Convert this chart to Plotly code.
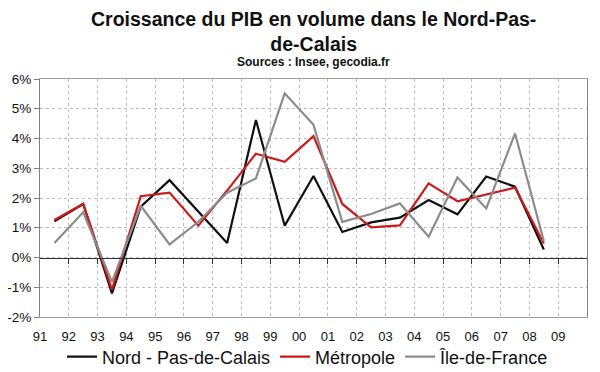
import plotly.graph_objects as go

years = ["91","92","93","94","95","96","97","98","99","00","01","02","03","04","05","06","07","08","09"]
nord = [1.22, 1.80, -1.21, 1.71, 2.60, 1.55, 0.49, 4.62, 1.07, 2.74, 0.86, 1.18, 1.34, 1.93, 1.45, 2.72, 2.38, 0.27]
metropole = [1.26, 1.80, -1.08, 2.06, 2.18, 1.07, 2.25, 3.49, 3.22, 4.08, 1.80, 1.01, 1.08, 2.49, 1.89, 2.13, 2.35, 0.47]
idf = [0.49, 1.52, -0.82, 1.74, 0.44, 1.20, 2.18, 2.66, 5.52, 4.46, 1.20, 1.46, 1.82, 0.70, 2.69, 1.65, 4.17, 0.55]
y_ticks = [-2, -1, 0, 1, 2, 3, 4, 5, 6]
y_labels = ["-2%", "-1%", "0%", "1%", "2%", "3%", "4%", "5%", "6%"]

xs = [i + 0.5 for i in range(len(nord))]
font = "Liberation Sans, Arial, sans-serif"

fig = go.Figure()
for name, vals, col in [("Nord - Pas-de-Calais", nord, "#111111"),
                        ("Métropole", metropole, "#cc1a1a"),
                        ("Île-de-France", idf, "#8c8c8c")]:
    fig.add_trace(go.Scatter(x=xs, y=vals, mode="lines", name=name,
                             line=dict(color=col, width=2.2)))

# invisible trace on xaxis2 to show zero axis ticks
fig.add_trace(go.Scatter(x=[0, 19], y=[0, 0], xaxis="x2", mode="lines",
                         line=dict(color="rgba(0,0,0,0)"), showlegend=False, hoverinfo="skip"))

fig.update_layout(
    width=600, height=372,
    margin=dict(l=32, r=21, t=71, b=63, autoexpand=False),
    paper_bgcolor="white", plot_bgcolor="white",
    font=dict(family=font, size=12, color="#111111"),
    annotations=[
        dict(text="<b>Croissance du PIB en volume dans le Nord-Pas-<br>de-Calais</b>",
             xref="paper", yref="paper", x=0.5, y=1.0, yshift=48,
             xanchor="center", yanchor="middle", showarrow=False,
             font=dict(size=19.5, family=font, color="#111111")),
        dict(text="<b>Sources : Insee, gecodia.fr</b>", xref="paper", yref="paper",
             x=0.5, y=1.0, yshift=17, xanchor="center", yanchor="middle",
             showarrow=False, font=dict(size=12, family=font, color="#111111")),
    ],
    xaxis=dict(range=[0, 19], tickvals=list(range(len(years))), ticktext=years,
               showgrid=True, gridcolor="#bdbdbd", griddash="dot", gridwidth=1,
               zeroline=False, showline=True, linecolor="#a0a0a0", linewidth=1, mirror=True,
               ticks="outside", ticklen=7, tickcolor="rgba(0,0,0,0)",
               tickfont=dict(size=13), automargin=False),
    xaxis2=dict(range=[0, 19], overlaying="x", anchor="free", position=0.25,
                tickvals=list(range(1, 19)), showticklabels=False, showgrid=False,
                zeroline=False, showline=True, linecolor="#333333", linewidth=1,
                ticks="outside", ticklen=5, tickcolor="#333333", side="bottom",
                automargin=False),
    yaxis=dict(range=[-2, 6], tickvals=y_ticks, ticktext=y_labels,
               showgrid=True, gridcolor="#bdbdbd", griddash="dot", gridwidth=1,
               zeroline=False, showline=True, linecolor="#808080", linewidth=1, mirror=True,
               ticks="outside", ticklen=5, tickcolor="#808080",
               tickfont=dict(size=13.5), automargin=False),
    legend=dict(orientation="h", x=0.5, xanchor="center", xref="container",
                y=0.062, yanchor="middle", yref="container",
                font=dict(size=18, family=font), itemwidth=30, tracegroupgap=0,
                bgcolor="rgba(0,0,0,0)"),
    showlegend=True,
)

fig.write_html("out.html")
